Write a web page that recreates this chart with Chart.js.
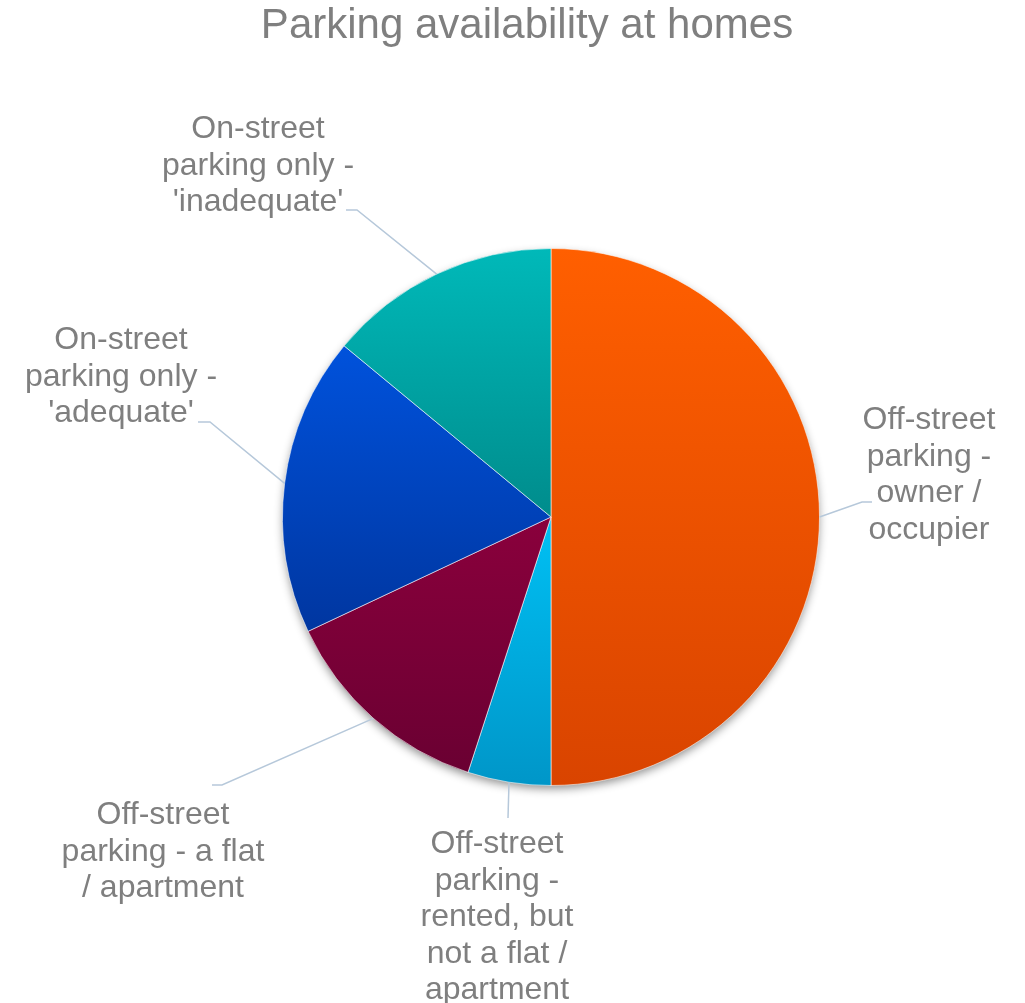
<!DOCTYPE html>
<html>
<head>
<meta charset="utf-8">
<title>Parking availability at homes</title>
<script src="https://cdn.jsdelivr.net/npm/chart.js@4.4.1/dist/chart.umd.min.js"></script>
<style>
  html, body { margin: 0; padding: 0; background: #ffffff; }
  #parking { display: block; }
</style>
</head>
<body>
<canvas id="parking" width="1025" height="1003"></canvas>
<script>
// data
const chartTitle = 'Parking availability at homes';
const categories = [
    'Off-street parking - owner / occupier',
    'Off-street parking - rented, but not a flat / apartment',
    'Off-street parking - a flat / apartment',
    "On-street parking only - 'adequate'",
    "On-street parking only - 'inadequate'"
];
const shares = [50, 5, 13, 18, 14];
// label text as wrapped in the picture
const labelLines = [
    ['Off-street', 'parking -', 'owner /', 'occupier'],
    ['Off-street', 'parking -', 'rented, but', 'not a flat /', 'apartment'],
    ['Off-street', 'parking - a flat', '/ apartment'],
    ['On-street', 'parking only -', "'adequate'"],
    ['On-street', 'parking only -', "'inadequate'"]
];

// styling
const topColors = ['#ff5f00', '#00c0f4', '#8a003c', '#0052dc', '#00b9b9'];
const bottomColors = ['#d94400', '#0096c8', '#6a0032', '#0036a0', '#008c8c'];
// text: centre x and baseline of first line
const labelSpots = [
    { elbow: [862, 502], end: [872, 502], text: [929, 429] },
    { elbow: [508, 818], end: [508, 818], text: [497, 853] },
    { elbow: [222, 785], end: [212, 785], text: [163, 824] },
    { elbow: [210, 422], end: [198, 422], text: [121, 349] },
    { elbow: [357, 210], end: [346, 210], text: [258, 138] }
];
const textGray = '#7f7f7f';
const leaderColor = '#b6c8da';

// vertical gradient spanning each slice's own height
function sliceGradient(context) {
    const chart = context.chart;
    const area = chart.chartArea;
    const i = context.dataIndex;
    if (!area) return topColors[i];
    const data = context.dataset.data;
    const total = data.reduce((a, b) => a + b, 0);
    let before = 0;
    for (let k = 0; k < i; k++) before += data[k];
    const a0 = before / total * 360;
    const a1 = (before + data[i]) / total * 360;
    const cx = (area.left + area.right) / 2;
    const cy = (area.top + area.bottom) / 2;
    const r = Math.min(area.width, area.height) / 2;
    const yAt = a => cy - r * Math.cos(a * Math.PI / 180);
    let ys = [cy, yAt(a0), yAt(a1)];
    if (a0 <= 0.001) ys.push(cy - r);
    if (a0 <= 180 && a1 >= 180) ys.push(cy + r);
    const g = chart.ctx.createLinearGradient(0, Math.min(...ys), 0, Math.max(...ys));
    g.addColorStop(0, topColors[i]);
    g.addColorStop(1, bottomColors[i]);
    return g;
}

const pieShadow = {
    id: 'pieShadow',
    beforeDatasetsDraw(chart) {
        const arc = chart.getDatasetMeta(0).data[0];
        if (!arc) return;
        const ctx = chart.ctx;
        ctx.save();
        ctx.shadowColor = 'rgba(0,0,0,0.45)';
        ctx.shadowBlur = 10;
        ctx.shadowOffsetY = 4;
        ctx.fillStyle = '#ffffff';
        ctx.beginPath();
        ctx.arc(arc.x, arc.y, arc.outerRadius - 1, 0, Math.PI * 2);
        ctx.fill();
        ctx.restore();
    }
};

const titleAndLabels = {
    id: 'titleAndLabels',
    afterDatasetsDraw(chart) {
        const ctx = chart.ctx;
        ctx.save();
        ctx.fillStyle = textGray;
        ctx.textAlign = 'center';
        ctx.textBaseline = 'alphabetic';
        ctx.font = '42px "Liberation Sans", Arial, sans-serif';
        ctx.fillText(chartTitle, 527, 38);

        const arcs = chart.getDatasetMeta(0).data;
        ctx.font = '32px "Liberation Sans", Arial, sans-serif';
        arcs.forEach((arc, i) => {
            const mid = (arc.startAngle + arc.endAngle) / 2;
            const sx = arc.x + Math.cos(mid) * arc.outerRadius;
            const sy = arc.y + Math.sin(mid) * arc.outerRadius;
            const spot = labelSpots[i];
            ctx.strokeStyle = leaderColor;
            ctx.lineWidth = 1.5;
            ctx.beginPath();
            ctx.moveTo(sx, sy);
            ctx.lineTo(spot.elbow[0], spot.elbow[1]);
            ctx.lineTo(spot.end[0], spot.end[1]);
            ctx.stroke();
            labelLines[i].forEach((line, j) => {
                ctx.fillText(line, spot.text[0], spot.text[1] + j * 36.6);
            });
        });
        ctx.restore();
    }
};

const chart = new Chart(document.getElementById('parking').getContext('2d'), {
    type: 'pie',
    data: {
        labels: categories,
        datasets: [{
            data: shares,
            backgroundColor: sliceGradient,
            borderColor: 'rgba(255,255,255,0.55)',
            borderWidth: 1
        }]
    },
    options: {
        responsive: false,
        animation: false,
        layout: {
            padding: { left: 282, right: 205, top: 248, bottom: 217 }
        },
        plugins: {
            legend: { display: false },
            tooltip: { enabled: false },
            title: { display: false }
        }
    },
    plugins: [pieShadow, titleAndLabels]
});
</script>
</body>
</html>
